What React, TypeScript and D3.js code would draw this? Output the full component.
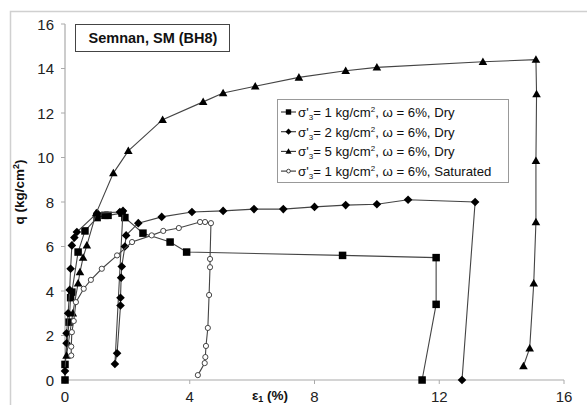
import React from "react";
import * as d3 from "d3";

type Pt = [number, number];

// Axial strain ε1 (%) vs deviator stress q (kg/cm²)
const dry1: Pt[] = [
  [0, 0], [0, 0.7], [0.13, 2.6], [0.18, 3.7], [0.22, 3.95], [0.42, 5.75], [0.64, 6.7],
  [1.03, 7.3], [1.28, 7.4], [1.38, 7.4], [1.83, 7.5], [1.92, 7.3], [2.5, 6.6],
  [3.37, 6.2], [3.9, 5.75], [8.9, 5.6], [11.9, 5.5], [11.9, 3.4], [11.45, 0],
];
const dry2: Pt[] = [
  [0, 0.4], [0.05, 1.65], [0.05, 2.1], [0.1, 3.0], [0.15, 4.05], [0.18, 5.0],
  [0.22, 6.05], [0.3, 6.4], [0.38, 6.65], [1.03, 7.5], [1.76, 7.55], [1.86, 7.6],
  [1.6, 0.72], [1.67, 1.2], [1.78, 3.35], [1.78, 3.7], [1.8, 4.6], [1.82, 5.1],
  [1.92, 6.0], [1.96, 6.5], [2.35, 7.05], [3.1, 7.33], [4.07, 7.55], [5.07, 7.6],
  [6.06, 7.68], [7.0, 7.68], [8.0, 7.78], [9.0, 7.86], [10.0, 7.9], [11.0, 8.1],
  [13.15, 8.0], [12.73, 0],
];
const dry5: Pt[] = [
  [0.05, 1.1], [0.25, 3.0], [0.42, 4.35], [0.48, 4.85], [0.58, 5.5], [0.7, 6.05],
  [1.0, 7.5], [1.55, 9.3], [2.03, 10.3], [3.13, 11.7], [4.43, 12.5], [5.07, 12.9],
  [6.1, 13.2], [7.5, 13.6], [9.0, 13.9], [10.0, 14.05], [13.4, 14.3], [15.1, 14.4],
  [15.12, 12.85], [15.1, 9.85], [15.1, 7.1], [15.03, 4.35], [14.9, 1.43], [14.7, 0.63],
];
const sat1: Pt[] = [
  [0.2, 1.1], [0.2, 1.5], [0.22, 2.15], [0.28, 2.65], [0.35, 3.5], [0.6, 4.1],
  [0.83, 4.5], [1.18, 5.0], [1.67, 5.6], [2.15, 6.2], [2.78, 6.5], [3.15, 6.7],
  [3.65, 6.83], [4.33, 7.1], [4.49, 7.1], [4.68, 7.05], [4.65, 5.44], [4.65, 5.07],
  [4.62, 3.82], [4.58, 2.34], [4.52, 1.53], [4.5, 1.03], [4.48, 0.76], [4.26, 0.22],
];

const xTicks = [0, 4, 8, 12, 16];
const yTicks = [0, 2, 4, 6, 8, 10, 12, 14, 16];

type Kind = "square" | "diamond" | "triangle" | "circle";
const seriesList: { pts: Pt[]; kind: Kind; sigma: string; state: string }[] = [
  { pts: dry1, kind: "square", sigma: "1", state: "Dry" },
  { pts: dry2, kind: "diamond", sigma: "2", state: "Dry" },
  { pts: dry5, kind: "triangle", sigma: "5", state: "Dry" },
  { pts: sat1, kind: "circle", sigma: "1", state: "Saturated" },
];

const W = 587;
const H = 405;
const FONT = "'Liberation Sans', Arial, sans-serif";

function Marker({ kind, x, y, small }: { kind: Kind; x: number; y: number; small?: boolean }) {
  const k = small ? 0.72 : 1;
  if (kind === "square") {
    const s = 7.5 * k;
    return <rect x={x - s / 2} y={y - s / 2} width={s} height={s} fill="#000" />;
  }
  if (kind === "diamond") {
    const s = 4.3 * k;
    return <path d={`M${x},${y - s}L${x + s},${y}L${x},${y + s}L${x - s},${y}Z`} fill="#000" />;
  }
  if (kind === "triangle") {
    const s = 4.3 * k;
    return <path d={`M${x},${y - s}L${x + s},${y + s * 0.75}L${x - s},${y + s * 0.75}Z`} fill="#000" />;
  }
  return <circle cx={x} cy={y} r={2.6 * k} fill="#fff" stroke="#333" strokeWidth={0.9} />;
}

export default function App() {
  const x = d3.scaleLinear().domain([0, 16]).range([65, 564]);
  const y = d3.scaleLinear().domain([0, 16]).range([380, 24]);
  const line = d3
    .line<Pt>()
    .x((d) => x(d[0]))
    .y((d) => y(d[1]));

  return (
    <svg
      width={W}
      height={H}
      style={{ position: "absolute", left: 0, top: 0, background: "#fff" }}
      fontFamily={FONT}
    >
      <rect x={10.5} y={11.5} width={620} height={420} fill="none" stroke="#d0d0d0" strokeWidth={1.5} />

      {/* axes */}
      <line x1={x(0)} x2={x(0)} y1={y(16)} y2={y(0)} stroke="#aaa" strokeWidth={1.2} />
      <line x1={x(0)} x2={x(16)} y1={y(0)} y2={y(0)} stroke="#aaa" strokeWidth={1.2} />
      {yTicks.map((t) => (
        <g key={"y" + t}>
          <line x1={x(0) - 4} x2={x(0)} y1={y(t)} y2={y(t)} stroke="#aaa" />
          <text x={54} y={y(t) + 5.5} textAnchor="end" fontSize={15} fill="#222">
            {t}
          </text>
        </g>
      ))}
      {xTicks.map((t) => (
        <g key={"x" + t}>
          <line x1={x(t)} x2={x(t)} y1={y(0)} y2={y(0) + 4} stroke="#aaa" />
          <text x={x(t)} y={402} textAnchor="middle" fontSize={15} fill="#222">
            {t}
          </text>
        </g>
      ))}
      <text
        transform="translate(24,192) rotate(-90)"
        textAnchor="middle"
        fontSize={13.5}
        fontWeight="bold"
        fill="#111"
      >
        q (kg/cm<tspan dy={-5} fontSize={9}>2</tspan>
        <tspan dy={5}>)</tspan>
      </text>
      <text x={270} y={400} textAnchor="middle" fontSize={13.5} fontWeight="bold" fill="#111">
        ε<tspan dy={2} fontSize={9}>1</tspan>
        <tspan dy={-2}> (%)</tspan>
      </text>

      {/* series */}
      {seriesList.map((s, i) => (
        <g key={i}>
          <path d={line(s.pts) ?? ""} fill="none" stroke="#444" strokeWidth={1.1} />
          {s.pts.map((p, j) => (
            <Marker key={j} kind={s.kind} x={x(p[0])} y={y(p[1])} />
          ))}
        </g>
      ))}

      {/* title box */}
      <rect x={75.5} y={24.5} width={154} height={27} fill="#fff" stroke="#444" strokeWidth={1} />
      <text x={153} y={43} textAnchor="middle" fontSize={14.5} fontWeight="bold" fill="#111">
        Semnan, SM (BH8)
      </text>

      {/* legend */}
      <rect x={277.5} y={99.5} width={231} height={83} fill="#fff" stroke="#999" strokeWidth={1} />
      {seriesList.map((s, i) => {
        const ly = 112 + i * 19.7;
        return (
          <g key={"lg" + i}>
            <line x1={281} x2={296} y1={ly} y2={ly} stroke="#333" strokeWidth={1.1} />
            <Marker kind={s.kind} x={288.5} y={ly} small />
            <text x={298} y={ly + 5} fontSize={13.2} fill="#111">
              σ'<tspan dy={3} fontSize={8}>3</tspan>
              <tspan dy={-3}>= {s.sigma} kg/cm</tspan>
              <tspan dy={-5} fontSize={8}>2</tspan>
              <tspan dy={5}>, ω = 6%, {s.state}</tspan>
            </text>
          </g>
        );
      })}
    </svg>
  );
}
